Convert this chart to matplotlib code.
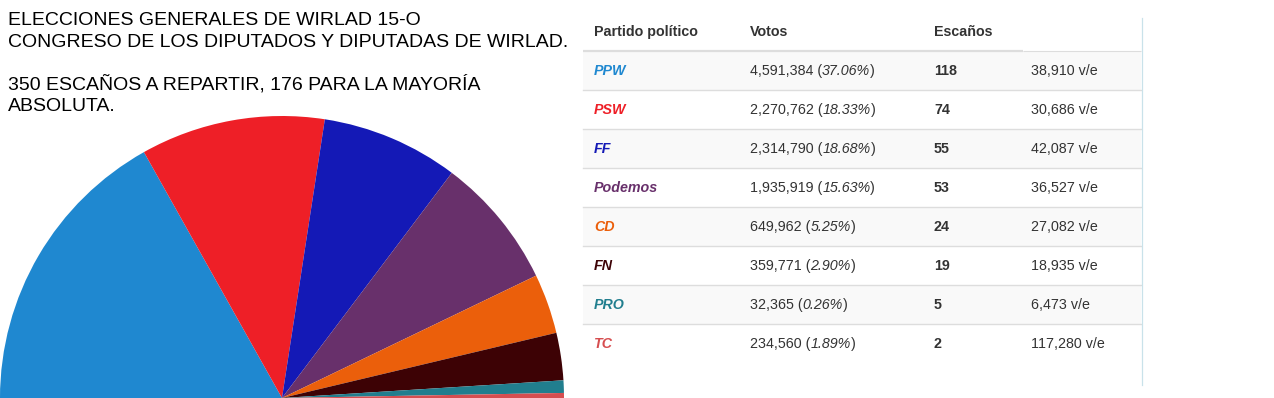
import matplotlib
matplotlib.use('Agg')
import matplotlib.pyplot as plt
from matplotlib.patches import Rectangle

plt.rcParams['font.family'] = ['Liberation Sans', 'DejaVu Sans']

# Data
parties = ['PPW', 'PSW', 'FF', 'Podemos', 'CD', 'FN', 'PRO', 'TC']
seats = [118, 74, 55, 53, 24, 19, 5, 2]
votes = ['4,591,384', '2,270,762', '2,314,790', '1,935,919', '649,962', '359,771', '32,365', '234,560']
vote_pct = ['37.06%', '18.33%', '18.68%', '15.63%', '5.25%', '2.90%', '0.26%', '1.89%']
votes_per_seat = ['38,910', '30,686', '42,087', '36,527', '27,082', '18,935', '6,473', '117,280']
colors = ['#1f88d0', '#ee1f27', '#1419b6', '#68306b', '#eb5f0b', '#3d0205', '#217e8e', '#d64e50']
title_lines = ['ELECCIONES GENERALES DE WIRLAD 15-O',
               'CONGRESO DE LOS DIPUTADOS Y DIPUTADAS DE WIRLAD.',
               '',
               '350 ESCAÑOS A REPARTIR, 176 PARA LA MAYORÍA',
               'ABSOLUTA.']
headers = ['Partido político', 'Votos', 'Escaños']

W, H = 1274, 398
fig = plt.figure(figsize=(W / 100, H / 100), dpi=100)

# background axes in pixel coordinates
ax = fig.add_axes([0, 0, 1, 1])
ax.set_xlim(0, W)
ax.set_ylim(H, 0)
ax.axis('off')

# half pie (parliament), invisible filler for the lower half
R = 282
pie_ax = fig.add_axes([0, -R / H, 2 * R / W, 2 * R / H])
pie_ax.pie(seats + [sum(seats)], colors=colors + ['none'], startangle=180,
           counterclock=False, radius=1, wedgeprops=dict(linewidth=0))
pie_ax.set_xlim(-1, 1)
pie_ax.set_ylim(-1, 1)
pie_ax.axis('off')

# title
for i, line in enumerate(title_lines):
    ax.text(8, 25 + i * 21.6, line, fontsize=14, color='black', va='baseline')

# table
tx0, tx1 = 583, 1141
row_top = 51
row_h = 39
col_x = [594, 750, 934, 1031]
txt_color = '#333333'
fs = 10.3

for i, h in enumerate(headers):
    ax.text(col_x[i], 32, h, fontsize=fs, fontweight='bold', color=txt_color, va='center')

for i in range(len(parties)):
    y0 = row_top + i * row_h
    if i % 2 == 0:
        ax.add_patch(Rectangle((tx0, y0), tx1 - tx0, row_h, facecolor='#f9f9f9', edgecolor='none'))
    if i > 0:
        ax.plot([tx0, tx1], [y0, y0], color='#dddddd', lw=1)

# header bottom border
ax.plot([tx0, 1023], [50.5, 50.5], color='#dddddd', lw=1.6, solid_capstyle='butt')
ax.plot([1023, tx1], [51, 51], color='#dddddd', lw=0.8, solid_capstyle='butt')
# right border
ax.plot([1141.5, 1141.5], [18, 385], color='#c9e2ea', lw=0.9)

fig.canvas.draw()
renderer = fig.canvas.get_renderer()
inv = ax.transData.inverted()

for i, p in enumerate(parties):
    yc = row_top + i * row_h + row_h / 2 + 0.5
    ax.text(col_x[0], yc, p, fontsize=fs, fontweight='bold', fontstyle='italic',
            color=colors[i], va='center')
    # votes with italic percentage
    x = col_x[1]
    for piece, style in [(votes[i] + ' (', 'normal'), (vote_pct[i], 'italic'), (')', 'normal')]:
        t = ax.text(x, yc, piece, fontsize=fs, fontstyle=style, color=txt_color, va='center')
        bb = t.get_window_extent(renderer)
        x = inv.transform((bb.x1, bb.y0))[0]
    ax.text(col_x[2], yc, str(seats[i]), fontsize=fs, fontweight='bold', color=txt_color, va='center')
    ax.text(col_x[3], yc, votes_per_seat[i] + ' v/e', fontsize=fs, color=txt_color, va='center')

fig.savefig('out.png', dpi=100)
